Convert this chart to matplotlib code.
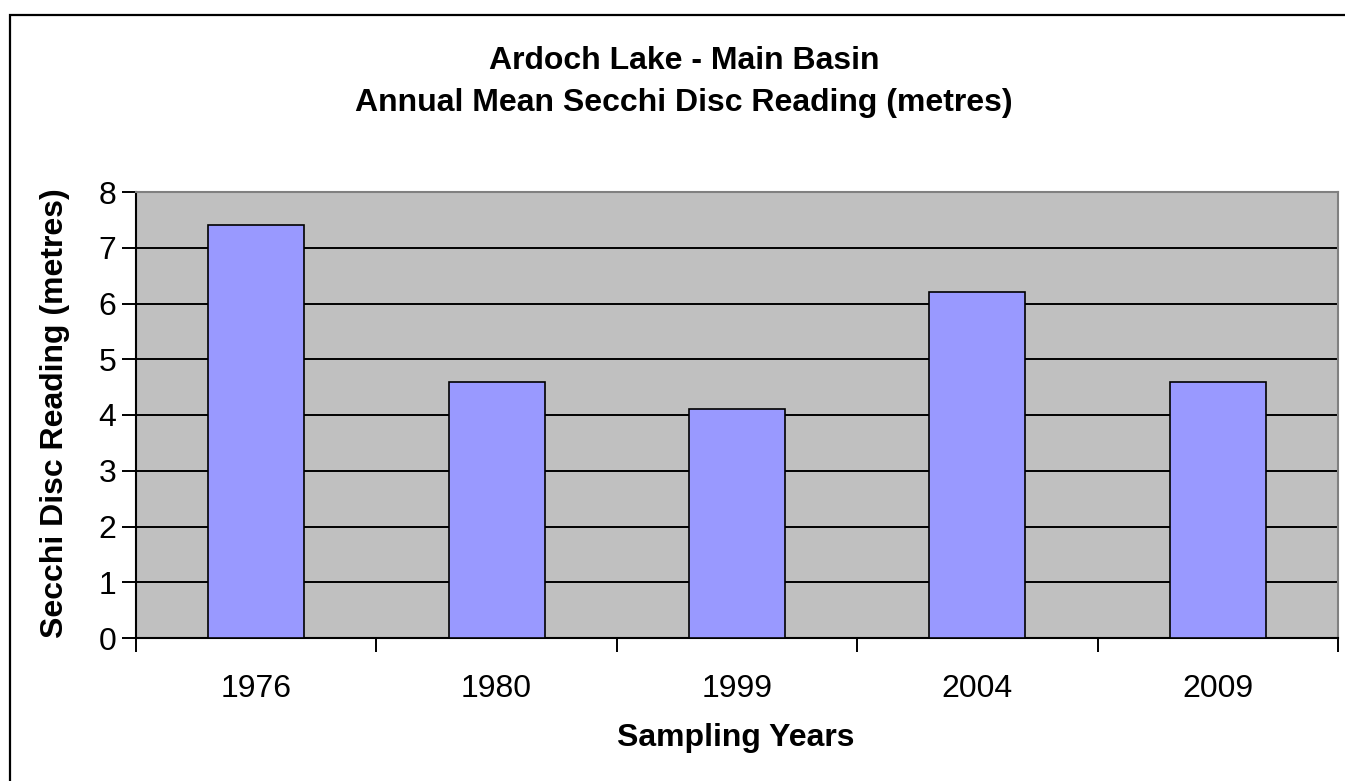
import matplotlib.pyplot as plt
from matplotlib.patches import Rectangle
import numpy as np

plt.rcParams['font.family'] = ['Liberation Sans', 'DejaVu Sans']

# data
years = ["1976", "1980", "1999", "2004", "2009"]
secchi = [7.4, 4.6, 4.1, 6.2, 4.6]

W, H = 1345, 781
fig = plt.figure(figsize=(W / 100, H / 100), dpi=100)

# outer chart border (cut off at right and bottom like the original)
fig.patches.append(Rectangle((10 / W, -0.1), 1.2, 1 - 15 / H + 0.1,
                             transform=fig.transFigure, fill=False,
                             edgecolor="black", linewidth=1.6))

ax = fig.add_axes([136 / W, (H - 638) / H, 1202 / W, 446 / H])
ax.set_facecolor("#C0C0C0")

x = np.arange(len(years))
ax.bar(x, secchi, width=0.4, color="#9999FF", edgecolor="black",
       linewidth=1.2, zorder=3)

ax.set_xlim(-0.5, len(years) - 0.5)
ax.set_ylim(0, 8)
ax.set_yticks(range(0, 9))
for yv in range(1, 8):
    ax.axhline(yv, color="black", linewidth=1.4, zorder=1)

ax.set_xticks(x)
ax.set_xticklabels(years)
ax.set_xticks(np.arange(-0.5, len(years)), minor=True)
ax.tick_params(axis="x", which="major", length=0, pad=26, labelsize=23)
ax.tick_params(axis="x", which="minor", length=10, width=1.4, direction="out")
ax.tick_params(axis="y", length=10, width=1.4, labelsize=23, pad=4)

for side in ("top", "right"):
    ax.spines[side].set_color("#808080")
    ax.spines[side].set_linewidth(1.5)
for side in ("left", "bottom"):
    ax.spines[side].set_color("black")
    ax.spines[side].set_linewidth(1.5)

fig.text(684 / W, 1 - 61 / H, "Ardoch Lake - Main Basin", ha="center",
         va="center", fontsize=23, fontweight="bold")
fig.text(684 / W, 1 - 103 / H, "Annual Mean Secchi Disc Reading (metres)",
         ha="center", va="center", fontsize=23, fontweight="bold")
fig.text(736 / W, 1 - 738 / H, "Sampling Years", ha="center", va="center",
         fontsize=23, fontweight="bold")
fig.text(55 / W, 1 - 413 / H, "Secchi Disc Reading (metres)", ha="center",
         va="center", rotation=90, fontsize=23, fontweight="bold")

fig.savefig("out.png", dpi=100)
